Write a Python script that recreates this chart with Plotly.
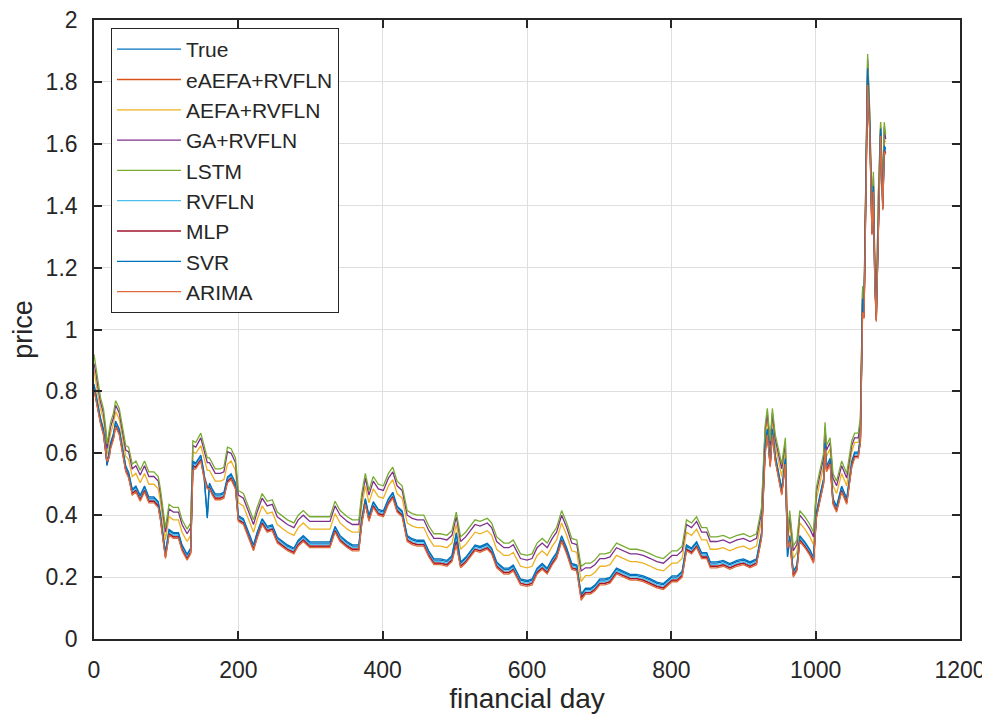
import plotly.graph_objects as go

days = [0,3,6,9,13,16,18,21,23,27,
        30,35,39,44,48,53,58,64,70,76,
        83,89,92,95,99,104,110,117,122,129,
        134,137,141,148,152,157,160,164,168,175,
        180,185,190,196,200,207,214,221,226,233,
        240,247,254,260,268,277,283,290,299,309,
        318,327,334,341,351,358,367,371,376,381,
        387,394,401,408,414,420,427,434,441,448,
        457,464,471,480,489,496,502,508,515,521,
        528,535,545,551,558,568,575,581,591,600,
        607,614,621,628,635,641,648,655,662,669,
        675,681,688,694,701,708,715,724,734,743,
        752,761,771,780,789,796,801,808,815,821,
        828,835,842,849,854,863,872,881,891,900,
        909,918,925,930,933,937,940,944,948,953,
        958,961,964,969,974,978,985,992,997,1001,
        1005,1011,1013,1015,1020,1024,1029,1036,1043,1050,
        1054,1059,1062,1065,1067,1069,1072,1075,1078,1080,
        1082,1084,1087,1090,1093,1095,1097]

true_price = [0.82,0.78,0.74,0.71,0.675,0.62,0.56,0.60,0.63,0.66,
    0.70,0.675,0.62,0.555,0.535,0.48,0.49,0.46,0.49,0.455,
    0.455,0.44,0.40,0.35,0.275,0.35,0.34,0.34,0.30,0.27,
    0.29,0.57,0.565,0.59,0.54,0.39,0.50,0.48,0.465,0.465,
    0.47,0.52,0.53,0.50,0.395,0.385,0.34,0.30,0.34,0.385,
    0.36,0.365,0.325,0.315,0.30,0.29,0.315,0.33,0.31,0.31,
    0.31,0.31,0.36,0.33,0.31,0.30,0.30,0.385,0.45,0.395,
    0.44,0.415,0.41,0.45,0.47,0.425,0.41,0.33,0.32,0.315,
    0.315,0.28,0.255,0.255,0.25,0.265,0.34,0.245,0.26,0.28,
    0.30,0.295,0.305,0.29,0.245,0.225,0.225,0.235,0.19,0.185,
    0.19,0.225,0.24,0.225,0.255,0.275,0.33,0.29,0.24,0.235,
    0.14,0.16,0.16,0.17,0.19,0.19,0.195,0.225,0.215,0.205,
    0.205,0.20,0.19,0.18,0.175,0.19,0.20,0.20,0.215,0.30,
    0.29,0.31,0.275,0.275,0.245,0.245,0.25,0.24,0.25,0.255,
    0.245,0.255,0.34,0.62,0.675,0.57,0.675,0.59,0.535,0.48,
    0.58,0.265,0.33,0.215,0.235,0.33,0.31,0.285,0.26,0.405,
    0.45,0.515,0.63,0.555,0.58,0.45,0.425,0.49,0.45,0.57,
    0.60,0.60,0.65,1.095,1.05,1.375,1.84,1.65,1.32,1.46,
    1.16,1.04,1.40,1.645,1.40,1.59,1.58]

eaefa_rvfln = [0.81,0.77,0.73,0.70,0.665,0.61,0.58,0.59,0.62,0.65,
    0.69,0.665,0.61,0.545,0.525,0.47,0.48,0.45,0.48,0.445,
    0.445,0.43,0.39,0.34,0.265,0.34,0.33,0.33,0.29,0.26,
    0.28,0.55,0.555,0.58,0.53,0.49,0.49,0.47,0.455,0.455,
    0.46,0.51,0.52,0.49,0.385,0.375,0.33,0.29,0.33,0.375,
    0.35,0.355,0.315,0.305,0.29,0.28,0.305,0.32,0.30,0.30,
    0.30,0.30,0.35,0.32,0.30,0.29,0.29,0.375,0.44,0.385,
    0.43,0.405,0.40,0.44,0.46,0.415,0.40,0.32,0.31,0.305,
    0.305,0.27,0.245,0.245,0.24,0.255,0.31,0.235,0.25,0.27,
    0.29,0.285,0.295,0.28,0.235,0.215,0.215,0.225,0.18,0.175,
    0.18,0.215,0.23,0.215,0.245,0.265,0.32,0.28,0.23,0.225,
    0.13,0.15,0.15,0.16,0.18,0.18,0.185,0.215,0.205,0.195,
    0.195,0.19,0.18,0.17,0.165,0.18,0.19,0.19,0.205,0.29,
    0.28,0.30,0.265,0.265,0.235,0.235,0.24,0.23,0.24,0.245,
    0.235,0.245,0.33,0.60,0.665,0.56,0.665,0.58,0.525,0.47,
    0.57,0.30,0.32,0.205,0.225,0.32,0.30,0.275,0.25,0.395,
    0.44,0.505,0.62,0.545,0.57,0.44,0.415,0.48,0.44,0.56,
    0.59,0.59,0.64,1.06,1.04,1.34,1.80,1.64,1.31,1.45,
    1.15,1.03,1.39,1.63,1.39,1.58,1.57]

aefa_rvfln = [0.87,0.82,0.78,0.745,0.71,0.655,0.595,0.635,0.665,0.695,
    0.735,0.71,0.655,0.59,0.58,0.525,0.535,0.505,0.535,0.50,
    0.50,0.485,0.445,0.395,0.32,0.395,0.385,0.385,0.345,0.315,
    0.335,0.605,0.60,0.625,0.585,0.545,0.545,0.525,0.51,0.51,
    0.515,0.565,0.575,0.545,0.44,0.43,0.385,0.345,0.385,0.43,
    0.405,0.41,0.37,0.36,0.345,0.335,0.36,0.375,0.355,0.355,
    0.355,0.355,0.405,0.375,0.355,0.345,0.345,0.43,0.495,0.44,
    0.485,0.46,0.455,0.495,0.515,0.47,0.455,0.375,0.365,0.36,
    0.36,0.325,0.30,0.30,0.295,0.31,0.37,0.29,0.305,0.325,
    0.345,0.34,0.35,0.335,0.29,0.27,0.27,0.28,0.235,0.23,
    0.235,0.27,0.285,0.27,0.30,0.32,0.375,0.335,0.285,0.28,
    0.185,0.205,0.205,0.215,0.235,0.235,0.24,0.27,0.26,0.25,
    0.25,0.245,0.235,0.225,0.22,0.235,0.245,0.245,0.26,0.345,
    0.335,0.355,0.32,0.32,0.29,0.29,0.295,0.285,0.295,0.30,
    0.29,0.30,0.385,0.655,0.71,0.605,0.71,0.625,0.58,0.525,
    0.615,0.31,0.375,0.26,0.28,0.375,0.355,0.33,0.305,0.45,
    0.495,0.56,0.665,0.59,0.615,0.495,0.47,0.535,0.495,0.605,
    0.635,0.635,0.685,1.12,1.075,1.40,1.865,1.675,1.345,1.485,
    1.185,1.065,1.425,1.67,1.425,1.615,1.605]

ga_rvfln = [0.89,0.855,0.805,0.765,0.73,0.675,0.615,0.655,0.685,0.715,
    0.755,0.73,0.675,0.61,0.605,0.55,0.56,0.53,0.56,0.525,
    0.525,0.51,0.47,0.42,0.345,0.42,0.41,0.41,0.37,0.34,
    0.36,0.625,0.62,0.65,0.61,0.57,0.57,0.55,0.535,0.535,
    0.54,0.605,0.60,0.57,0.465,0.455,0.41,0.37,0.41,0.455,
    0.43,0.435,0.395,0.385,0.37,0.36,0.385,0.40,0.38,0.38,
    0.38,0.38,0.43,0.40,0.38,0.37,0.37,0.455,0.52,0.465,
    0.51,0.485,0.48,0.52,0.54,0.495,0.48,0.40,0.39,0.385,
    0.385,0.35,0.325,0.325,0.32,0.335,0.395,0.315,0.33,0.35,
    0.37,0.365,0.375,0.36,0.315,0.295,0.295,0.305,0.26,0.255,
    0.26,0.295,0.31,0.295,0.325,0.345,0.40,0.36,0.31,0.305,
    0.22,0.23,0.23,0.24,0.26,0.26,0.265,0.295,0.285,0.275,
    0.275,0.27,0.26,0.25,0.245,0.26,0.27,0.27,0.285,0.37,
    0.36,0.38,0.345,0.345,0.315,0.315,0.32,0.31,0.32,0.325,
    0.315,0.325,0.41,0.675,0.73,0.625,0.73,0.645,0.605,0.55,
    0.635,0.325,0.40,0.285,0.305,0.40,0.38,0.355,0.33,0.475,
    0.52,0.585,0.685,0.61,0.635,0.52,0.495,0.56,0.52,0.625,
    0.65,0.65,0.70,1.125,1.085,1.41,1.875,1.685,1.355,1.495,
    1.195,1.075,1.435,1.655,1.435,1.655,1.615]

lstm = [0.92,0.87,0.82,0.78,0.745,0.69,0.63,0.67,0.70,0.73,
    0.77,0.745,0.69,0.625,0.62,0.565,0.575,0.545,0.575,0.54,
    0.54,0.525,0.485,0.435,0.36,0.435,0.425,0.425,0.385,0.355,
    0.375,0.64,0.635,0.665,0.625,0.585,0.585,0.565,0.55,0.55,
    0.555,0.62,0.615,0.585,0.48,0.47,0.425,0.385,0.425,0.47,
    0.445,0.45,0.41,0.40,0.385,0.375,0.40,0.415,0.395,0.395,
    0.395,0.395,0.445,0.415,0.395,0.385,0.385,0.47,0.535,0.48,
    0.525,0.50,0.495,0.535,0.555,0.51,0.495,0.415,0.405,0.40,
    0.40,0.365,0.34,0.34,0.335,0.35,0.41,0.33,0.345,0.365,
    0.385,0.38,0.39,0.375,0.33,0.31,0.31,0.32,0.275,0.27,
    0.275,0.31,0.325,0.31,0.34,0.36,0.415,0.375,0.325,0.32,
    0.235,0.245,0.245,0.255,0.275,0.275,0.28,0.31,0.30,0.29,
    0.29,0.285,0.275,0.265,0.26,0.275,0.285,0.285,0.30,0.385,
    0.375,0.395,0.36,0.36,0.33,0.33,0.335,0.325,0.335,0.34,
    0.33,0.34,0.425,0.69,0.745,0.64,0.745,0.66,0.62,0.565,
    0.65,0.34,0.415,0.30,0.32,0.415,0.395,0.37,0.345,0.49,
    0.535,0.60,0.70,0.625,0.65,0.535,0.51,0.575,0.535,0.64,
    0.665,0.665,0.715,1.14,1.10,1.425,1.89,1.70,1.37,1.51,
    1.21,1.09,1.45,1.67,1.45,1.67,1.63]

rvfln = [0.815,0.775,0.735,0.705,0.67,0.615,0.57,0.595,0.625,0.655,
    0.695,0.67,0.615,0.55,0.53,0.475,0.485,0.455,0.485,0.45,
    0.45,0.435,0.395,0.345,0.27,0.345,0.335,0.335,0.295,0.265,
    0.285,0.565,0.56,0.585,0.535,0.495,0.495,0.475,0.46,0.46,
    0.465,0.515,0.525,0.495,0.39,0.38,0.335,0.295,0.335,0.38,
    0.355,0.36,0.32,0.31,0.295,0.285,0.31,0.325,0.305,0.305,
    0.305,0.305,0.355,0.325,0.305,0.295,0.295,0.38,0.445,0.39,
    0.435,0.41,0.405,0.445,0.465,0.42,0.405,0.325,0.315,0.31,
    0.31,0.275,0.25,0.25,0.245,0.26,0.32,0.24,0.255,0.275,
    0.295,0.29,0.30,0.285,0.24,0.22,0.22,0.23,0.185,0.18,
    0.185,0.22,0.235,0.22,0.25,0.27,0.325,0.285,0.235,0.23,
    0.135,0.155,0.155,0.165,0.185,0.185,0.19,0.22,0.21,0.20,
    0.20,0.195,0.185,0.175,0.17,0.185,0.195,0.195,0.21,0.295,
    0.285,0.305,0.27,0.27,0.24,0.24,0.245,0.235,0.245,0.25,
    0.24,0.25,0.335,0.615,0.67,0.565,0.67,0.585,0.53,0.475,
    0.575,0.30,0.325,0.21,0.23,0.325,0.305,0.28,0.255,0.40,
    0.445,0.51,0.625,0.55,0.575,0.445,0.42,0.485,0.445,0.565,
    0.595,0.595,0.645,1.09,1.045,1.37,1.83,1.645,1.315,1.455,
    1.155,1.035,1.395,1.64,1.395,1.585,1.575]

mlp = [0.81,0.77,0.73,0.70,0.665,0.61,0.565,0.59,0.62,0.65,
    0.69,0.665,0.61,0.545,0.525,0.47,0.48,0.45,0.48,0.445,
    0.445,0.43,0.39,0.34,0.265,0.34,0.33,0.33,0.29,0.26,
    0.28,0.56,0.555,0.58,0.53,0.49,0.49,0.47,0.455,0.455,
    0.46,0.51,0.52,0.49,0.385,0.375,0.33,0.29,0.33,0.375,
    0.35,0.355,0.315,0.305,0.29,0.28,0.305,0.32,0.30,0.30,
    0.30,0.30,0.35,0.32,0.30,0.29,0.29,0.375,0.44,0.385,
    0.43,0.405,0.40,0.44,0.46,0.415,0.40,0.32,0.31,0.305,
    0.305,0.27,0.245,0.245,0.24,0.255,0.315,0.235,0.25,0.27,
    0.29,0.285,0.295,0.28,0.235,0.215,0.215,0.225,0.18,0.175,
    0.18,0.215,0.23,0.215,0.245,0.265,0.32,0.28,0.23,0.225,
    0.135,0.15,0.15,0.16,0.18,0.18,0.185,0.215,0.205,0.195,
    0.195,0.19,0.18,0.17,0.165,0.18,0.19,0.19,0.205,0.29,
    0.28,0.30,0.265,0.265,0.235,0.235,0.24,0.23,0.24,0.245,
    0.235,0.245,0.33,0.61,0.665,0.56,0.665,0.58,0.525,0.47,
    0.57,0.29,0.32,0.205,0.225,0.32,0.30,0.275,0.25,0.395,
    0.44,0.505,0.62,0.545,0.57,0.44,0.415,0.48,0.44,0.56,
    0.59,0.59,0.64,1.08,1.04,1.36,1.82,1.64,1.31,1.45,
    1.15,1.03,1.39,1.635,1.39,1.58,1.57]

svr = [0.824,0.784,0.744,0.714,0.679,0.624,0.564,0.604,0.634,0.664,
    0.704,0.679,0.624,0.559,0.539,0.484,0.494,0.464,0.494,0.459,
    0.459,0.444,0.404,0.354,0.279,0.354,0.344,0.344,0.304,0.274,
    0.294,0.574,0.569,0.594,0.544,0.394,0.504,0.484,0.469,0.469,
    0.474,0.524,0.534,0.504,0.399,0.389,0.344,0.304,0.344,0.389,
    0.364,0.369,0.329,0.319,0.304,0.294,0.319,0.334,0.314,0.314,
    0.314,0.314,0.364,0.334,0.314,0.304,0.304,0.389,0.454,0.399,
    0.444,0.419,0.414,0.454,0.474,0.429,0.414,0.334,0.324,0.319,
    0.319,0.284,0.259,0.259,0.254,0.269,0.344,0.249,0.264,0.284,
    0.304,0.299,0.309,0.294,0.249,0.229,0.229,0.239,0.194,0.189,
    0.194,0.229,0.244,0.229,0.259,0.279,0.334,0.294,0.244,0.239,
    0.144,0.164,0.164,0.174,0.194,0.194,0.199,0.229,0.219,0.209,
    0.209,0.204,0.194,0.184,0.179,0.194,0.204,0.204,0.219,0.304,
    0.294,0.314,0.279,0.279,0.249,0.249,0.254,0.244,0.254,0.259,
    0.249,0.259,0.344,0.624,0.679,0.574,0.679,0.594,0.539,0.484,
    0.584,0.269,0.334,0.219,0.239,0.334,0.314,0.289,0.264,0.409,
    0.454,0.519,0.634,0.559,0.584,0.454,0.429,0.494,0.454,0.574,
    0.604,0.604,0.654,1.099,1.054,1.379,1.844,1.654,1.324,1.464,
    1.164,1.044,1.404,1.649,1.404,1.594,1.584]

arima = [0.805,0.765,0.725,0.695,0.66,0.605,0.575,0.585,0.615,0.645,
    0.685,0.66,0.605,0.54,0.52,0.465,0.475,0.445,0.475,0.44,
    0.44,0.425,0.385,0.335,0.26,0.335,0.325,0.325,0.285,0.255,
    0.275,0.545,0.55,0.575,0.525,0.485,0.485,0.465,0.45,0.45,
    0.455,0.505,0.515,0.485,0.38,0.37,0.325,0.285,0.325,0.37,
    0.345,0.35,0.31,0.30,0.285,0.275,0.30,0.315,0.295,0.295,
    0.295,0.295,0.345,0.315,0.295,0.285,0.285,0.37,0.435,0.38,
    0.425,0.40,0.395,0.435,0.455,0.41,0.395,0.315,0.305,0.30,
    0.30,0.265,0.24,0.24,0.235,0.25,0.305,0.23,0.245,0.265,
    0.285,0.28,0.29,0.275,0.23,0.21,0.21,0.22,0.175,0.17,
    0.175,0.21,0.225,0.21,0.24,0.26,0.315,0.275,0.225,0.22,
    0.125,0.145,0.145,0.155,0.175,0.175,0.18,0.21,0.20,0.19,
    0.19,0.185,0.175,0.165,0.16,0.175,0.185,0.185,0.20,0.285,
    0.275,0.295,0.26,0.26,0.23,0.23,0.235,0.225,0.235,0.24,
    0.23,0.24,0.325,0.595,0.66,0.555,0.66,0.575,0.52,0.465,
    0.565,0.295,0.315,0.20,0.22,0.315,0.295,0.27,0.245,0.39,
    0.435,0.50,0.615,0.54,0.565,0.435,0.41,0.475,0.435,0.555,
    0.585,0.585,0.635,1.055,1.035,1.335,1.79,1.635,1.305,1.445,
    1.145,1.025,1.385,1.625,1.385,1.575,1.565]

series_names = ["True", "eAEFA+RVFLN", "AEFA+RVFLN", "GA+RVFLN", "LSTM",
                "RVFLN", "MLP", "SVR", "ARIMA"]
series_values = [true_price, eaefa_rvfln, aefa_rvfln, ga_rvfln, lstm,
                 rvfln, mlp, svr, arima]
series_colors = ["#0072BD", "#D95319", "#EDB120", "#7E2F8E", "#77AC30",
                 "#4DBEEE", "#A2142F", "#0072BD", "#DE6B3C"]

for v in series_values:
    assert len(v) == len(days), (len(v), len(days))

x_ticks = [0, 200, 400, 600, 800, 1000, 1200]
y_ticks = [0, 0.2, 0.4, 0.6, 0.8, 1, 1.2, 1.4, 1.6, 1.8, 2]
y_tick_text = ["0", "0.2", "0.4", "0.6", "0.8", "1", "1.2", "1.4", "1.6", "1.8", "2"]

FONT = "Liberation Sans, Arial, sans-serif"
fig = go.Figure()
for name, vals, col in zip(series_names, series_values, series_colors):
    fig.add_trace(go.Scatter(x=days, y=vals, mode="lines", name=name,
                             line=dict(color=col, width=1.3)))

axis_common = dict(showline=True, linecolor="#262626", linewidth=1.6,
                   mirror="ticks", ticks="inside", ticklen=8, tickwidth=1.6,
                   tickcolor="#262626", showgrid=True, gridcolor="#DFDFDF",
                   gridwidth=1, zeroline=False, automargin=False,
                   ticklabeloverflow="allow",
                   tickfont=dict(family=FONT, size=23, color="#262626"))

# the page body adds an 8px offset, so the figure is sized to the visible window
fig.update_layout(
    width=982, height=708,
    margin=dict(l=86, r=30, t=12, b=77),
    paper_bgcolor="white", plot_bgcolor="white",
    font=dict(family=FONT, color="#262626"),
    xaxis=dict(range=[0, 1200], tickvals=x_ticks, ticktext=[str(t) for t in x_ticks],
               title=dict(text="financial day", font=dict(family=FONT, size=28, color="#262626"), standoff=6),
               ticklabelstandoff=10, **axis_common),
    yaxis=dict(range=[0, 2], tickvals=y_ticks, ticktext=y_tick_text,
               title=dict(text="price", font=dict(family=FONT, size=27, color="#262626"), standoff=8),
               ticklabelstandoff=10, **axis_common),
    legend=dict(x=0.0196, y=0.987, xanchor="left", yanchor="top",
                bgcolor="white", bordercolor="#262626", borderwidth=1,
                font=dict(family=FONT, size=21, color="#262626"),
                itemwidth=64, tracegroupgap=0),
    showlegend=True,
)

fig.write_html("out.html")
